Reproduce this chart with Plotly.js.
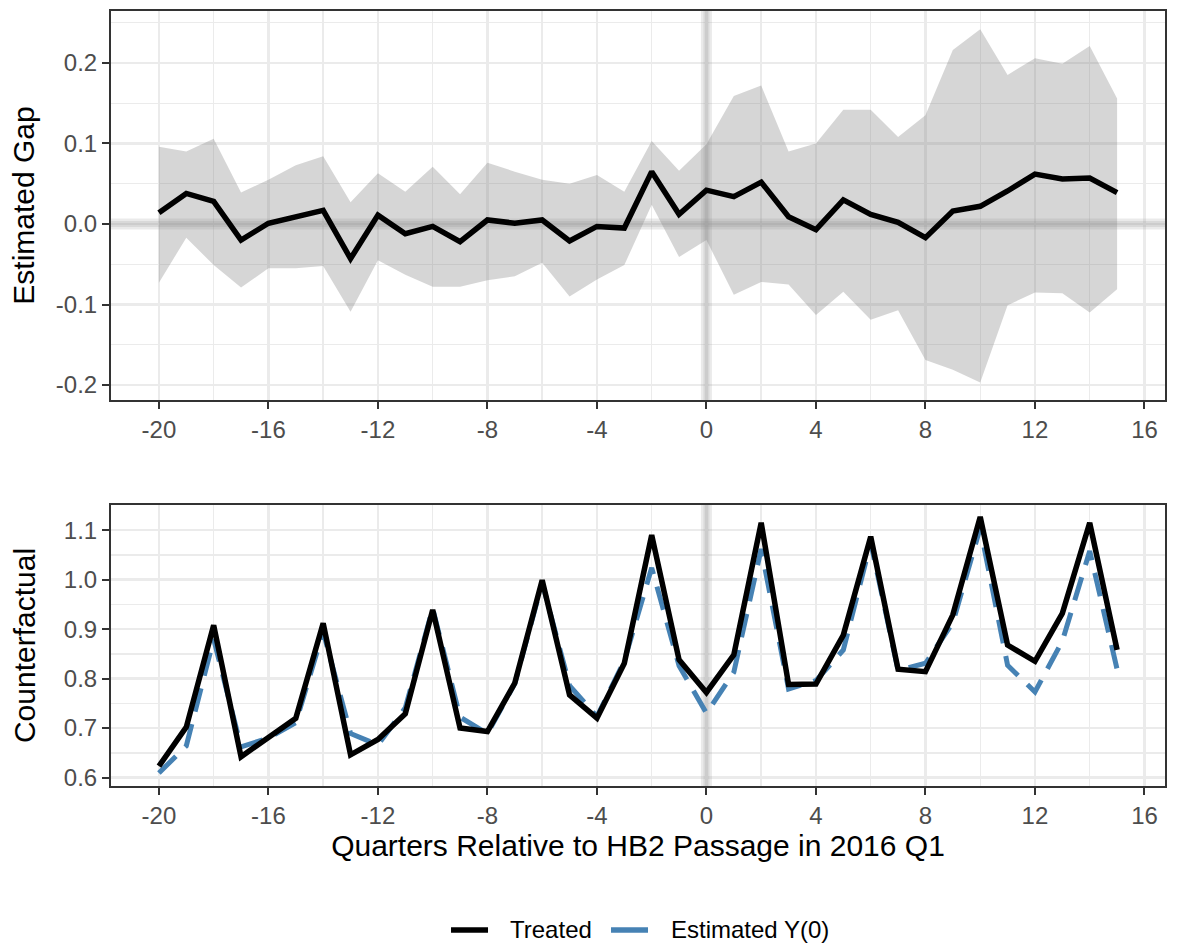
<!DOCTYPE html>
<html>
<head>
<meta charset="utf-8">
<script src="https://cdn.plot.ly/plotly-3.0.1.min.js"></script>
<style>
  html, body { margin: 0; padding: 0; background: #ffffff; }
  #chart { width: 1180px; height: 945px; }
</style>
</head>
<body>
<div id="chart"></div>
<script>
// Quarters relative to the HB2 passage (2016 Q1 = 0)
const quarters = [-20, -19, -18, -17, -16, -15, -14, -13, -12, -11, -10, -9, -8, -7, -6, -5, -4, -3,
                  -2, -1, 0, 1, 2, 3, 4, 5, 6, 7, 8, 9, 10, 11, 12, 13, 14, 15];

// Estimated gap (treated minus counterfactual) and its confidence band
const gapEstimate = [0.014, 0.038, 0.028, -0.020, 0.001, 0.009, 0.017, -0.043, 0.011, -0.012, -0.003, -0.022,
                     0.005, 0.001, 0.005, -0.021, -0.003, -0.005, 0.065, 0.012, 0.042, 0.034, 0.052, 0.009,
                     -0.007, 0.030, 0.012, 0.002, -0.017, 0.016, 0.022, 0.041, 0.062, 0.056, 0.057, 0.039];
const gapUpper = [0.096, 0.090, 0.106, 0.039, 0.055, 0.073, 0.084, 0.027, 0.063, 0.040, 0.071, 0.037,
                  0.076, 0.065, 0.055, 0.050, 0.061, 0.040, 0.103, 0.066, 0.099, 0.159, 0.172, 0.090,
                  0.100, 0.142, 0.142, 0.108, 0.135, 0.216, 0.242, 0.185, 0.206, 0.199, 0.221, 0.156];
const gapLower = [-0.073, -0.017, -0.051, -0.079, -0.055, -0.055, -0.052, -0.109, -0.045, -0.063, -0.078, -0.078,
                  -0.070, -0.065, -0.048, -0.090, -0.069, -0.051, 0.024, -0.041, -0.020, -0.088, -0.072, -0.075,
                  -0.113, -0.084, -0.119, -0.107, -0.169, -0.181, -0.197, -0.101, -0.085, -0.086, -0.110, -0.081];

// Treated outcome and estimated untreated potential outcome Y(0)
const treated = [0.623, 0.702, 0.908, 0.642, 0.681, 0.720, 0.912, 0.646, 0.677, 0.729, 0.939, 0.700,
                 0.693, 0.791, 0.999, 0.767, 0.720, 0.831, 1.090, 0.838, 0.772, 0.848, 1.115, 0.788,
                 0.789, 0.888, 1.087, 0.819, 0.814, 0.929, 1.127, 0.868, 0.835, 0.932, 1.115, 0.858];
const estimatedY0 = [0.609, 0.664, 0.880, 0.662, 0.680, 0.711, 0.895, 0.689, 0.666, 0.741, 0.942, 0.722,
                     0.689, 0.790, 0.994, 0.786, 0.723, 0.836, 1.024, 0.826, 0.730, 0.813, 1.062, 0.779,
                     0.796, 0.858, 1.075, 0.817, 0.831, 0.913, 1.105, 0.827, 0.773, 0.876, 1.058, 0.819];

// Tick positions and labels
const xTickVals = [-20, -16, -12, -8, -4, 0, 4, 8, 12, 16];
const xTickText = ['-20', '-16', '-12', '-8', '-4', '0', '4', '8', '12', '16'];
const gapTickVals = [-0.2, -0.1, 0.0, 0.1, 0.2];
const gapTickText = ['-0.2', '-0.1', '0.0', '0.1', '0.2'];
const cfTickVals = [0.6, 0.7, 0.8, 0.9, 1.0, 1.1];
const cfTickText = ['0.6', '0.7', '0.8', '0.9', '1.0', '1.1'];

// Legend entries (label, colour)
const legendLabels = ['Treated', 'Estimated Y(0)'];
const legendColors = ['#000000', '#4682B4'];

// Axis extents (data range padded by 5%)
const xRange = [-21.75, 16.75];
const gapRange = [-0.2186, 0.2646];
const cfRange = [0.583, 1.151];

const FONT = 'Liberation Sans, Arial, Helvetica, sans-serif';
const GRID = '#EBEBEB';
const BORDER = '#333333';
const BAND = 'rgba(150,150,150,0.2)';

const traces = [
  { x: quarters, y: gapLower, xaxis: 'x', yaxis: 'y', mode: 'lines',
    line: { width: 0, color: 'rgba(0,0,0,0)' }, showlegend: false, hoverinfo: 'skip' },
  { x: quarters, y: gapUpper, xaxis: 'x', yaxis: 'y', mode: 'lines', fill: 'tonexty',
    fillcolor: 'rgba(128,128,128,0.32)', line: { width: 0, color: 'rgba(0,0,0,0)' },
    showlegend: false, hoverinfo: 'skip' },
  { x: quarters, y: gapEstimate, xaxis: 'x', yaxis: 'y', mode: 'lines',
    line: { color: '#000000', width: 5.5 }, showlegend: false },
  { x: quarters, y: estimatedY0, xaxis: 'x2', yaxis: 'y2', mode: 'lines', name: legendLabels[1],
    line: { color: legendColors[1], width: 5, dash: '24px,13px' }, showlegend: false },
  { x: quarters, y: treated, xaxis: 'x2', yaxis: 'y2', mode: 'lines', name: legendLabels[0],
    line: { color: legendColors[0], width: 5.5 }, showlegend: false }
];

function xAxis(anchor, withTitle) {
  const ax = {
    anchor: anchor, domain: [0, 1], range: xRange,
    tickmode: 'array', tickvals: xTickVals, ticktext: xTickText,
    tickfont: { family: FONT, size: 24, color: '#4D4D4D' },
    ticks: 'outside', ticklen: 7, tickwidth: 2, tickcolor: BORDER,
    showline: true, mirror: true, linecolor: BORDER, linewidth: 2,
    showgrid: true, gridcolor: GRID, gridwidth: 2.5, zeroline: false,
    minor: { dtick: 2, tick0: 0, showgrid: true, gridcolor: GRID, gridwidth: 1.4, ticks: '' }
  };
  if (withTitle) {
    ax.title = { text: 'Quarters Relative to HB2 Passage in 2016 Q1',
                 font: { family: FONT, size: 30, color: '#000000' }, standoff: 7 };
  }
  return ax;
}

function yAxis(anchor, domain, range, vals, text, minorStep, title, standoff) {
  return {
    anchor: anchor, domain: domain, range: range,
    tickmode: 'array', tickvals: vals, ticktext: text,
    tickfont: { family: FONT, size: 24, color: '#4D4D4D' },
    ticks: 'outside', ticklen: 7, tickwidth: 2, tickcolor: BORDER,
    showline: true, mirror: true, linecolor: BORDER, linewidth: 2,
    showgrid: true, gridcolor: GRID, gridwidth: 2.5, zeroline: false,
    minor: { dtick: minorStep, tick0: 0, showgrid: true, gridcolor: GRID, gridwidth: 1.4, ticks: '' },
    title: { text: title, font: { family: FONT, size: 30, color: '#000000' }, standoff: standoff }
  };
}

// Reference lines at the passage quarter and at zero gap, drawn between grid and data
function vBand(xref, yref, yr, w) {
  return { type: 'line', xref: xref, yref: yref, x0: 0, x1: 0, y0: yr[0], y1: yr[1],
           line: { color: BAND, width: w }, layer: 'between' };
}
function hBand(xref, yref, w) {
  return { type: 'line', xref: xref, yref: yref, x0: xRange[0], x1: xRange[1], y0: 0, y1: 0,
           line: { color: BAND, width: w }, layer: 'between' };
}

// Legend keys and labels below the lower panel
const legendKeyX = [[0.3226, 0.3577], [0.4744, 0.5095]];
const legendTextX = [0.3767, 0.5295];
const legendY = 0.0159;
const legendShapes = legendLabels.map((lab, i) => ({
  type: 'line', xref: 'paper', yref: 'paper',
  x0: legendKeyX[i][0], x1: legendKeyX[i][1], y0: legendY, y1: legendY,
  line: { color: legendColors[i], width: 5.5 }, layer: 'above'
}));
const legendAnnotations = legendLabels.map((lab, i) => ({
  xref: 'paper', yref: 'paper', x: legendTextX[i], y: legendY,
  xanchor: 'left', yanchor: 'middle', showarrow: false, text: lab,
  font: { family: FONT, size: 24, color: '#000000' }
}));

const layout = {
  width: 1180, height: 945,
  margin: { l: 111, r: 15, t: 0, b: 0 },
  paper_bgcolor: '#ffffff', plot_bgcolor: '#ffffff',
  font: { family: FONT, color: '#000000' },
  xaxis: xAxis('y', false),
  yaxis: yAxis('x', [0.5767, 0.9884], gapRange, gapTickVals, gapTickText, 0.05, 'Estimated Gap', 12),
  xaxis2: xAxis('y2', true),
  yaxis2: yAxis('x2', [0.1683, 0.4656], cfRange, cfTickVals, cfTickText, 0.05, 'Counterfactual', 19),
  shapes: [
    vBand('x', 'y', gapRange, 11), vBand('x', 'y', gapRange, 6),
    hBand('x', 'y', 11), hBand('x', 'y', 6),
    vBand('x2', 'y2', cfRange, 11), vBand('x2', 'y2', cfRange, 6)
  ].concat(legendShapes),
  annotations: legendAnnotations,
  showlegend: false,
  hovermode: false
};

Plotly.newPlot('chart', traces, layout, { staticPlot: true, displayModeBar: false });
</script>
</body>
</html>
